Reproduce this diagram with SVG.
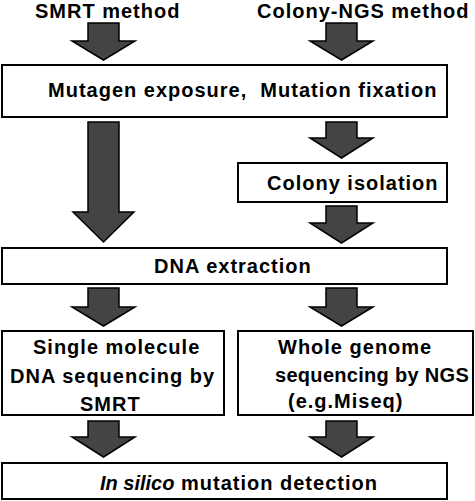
<svg xmlns="http://www.w3.org/2000/svg" width="475" height="501" viewBox="0 0 475 501">
<style>
.box{fill:#fff;stroke:#000;stroke-width:2}
.t{font-family:"Liberation Sans",Arial,sans-serif;font-size:20px;font-weight:bold;letter-spacing:1px;fill:#000}
.arr{fill:#444;stroke:#000;stroke-width:1.5;stroke-linejoin:miter}
</style>
<rect width="475" height="501" fill="#fff"/>
<g id="labels">
<text class="t" x="35" y="18">SMRT method</text>
<text class="t" x="257" y="18">Colony-NGS method</text>
</g>
<g id="connectors">
<polygon class="arr" points="88,23 119,23 119,41 135,41 103.5,60 72,41 88,41"/>
<polygon class="arr" points="326,23 357,23 357,41 373,41 341.5,60 310,41 326,41"/>
<polygon class="arr" points="88,122 119,122 119,212 134,212 103.5,242 73,212 88,212"/>
<polygon class="arr" points="326,122 357,122 357,138 373,138 341.5,158 310,138 326,138"/>
<polygon class="arr" points="326,206 357,206 357,223 373,223 341.5,243 310,223 326,223"/>
<polygon class="arr" points="88,288 119,288 119,307 135,307 103.5,326 72,307 88,307"/>
<polygon class="arr" points="326,288 357,288 357,307 373,307 341.5,326 310,307 326,307"/>
<polygon class="arr" points="88,421 119,421 119,437 135,437 103.5,457 72,437 88,437"/>
<polygon class="arr" points="326,421 357,421 357,437 373,437 341.5,457 310,437 326,437"/>
</g>
<g id="mutagen">
<rect class="box" x="2" y="65" width="445" height="52"/>
<text class="t" x="48" y="97">Mutagen exposure,&#160; Mutation fixation</text>
</g>
<g id="colony">
<rect class="box" x="238" y="163" width="209" height="39"/>
<text class="t" x="267" y="190">Colony isolation</text>
</g>
<g id="dna">
<rect class="box" x="2" y="248" width="445" height="36"/>
<text class="t" x="154" y="273">DNA extraction</text>
</g>
<g id="smrt">
<rect class="box" x="2" y="331" width="222" height="84"/>
<text class="t" x="33" y="354">Single molecule</text>
<text class="t" x="10" y="383">DNA sequencing by</text>
<text class="t" x="80" y="411">SMRT</text>
</g>
<g id="ngs">
<rect class="box" x="238" y="331" width="235" height="84"/>
<text class="t" x="278" y="354">Whole genome</text>
<text class="t" x="275" y="382" style="letter-spacing:0.3px">sequencing by NGS</text>
<text class="t" x="288" y="408">(e.g.Miseq)</text>
</g>
<g id="insilico">
<rect class="box" x="2" y="463" width="445" height="36"/>
<text class="t" x="100" y="490"><tspan font-style="italic" letter-spacing="0">In silico</tspan> mutation detection</text>
</g>
</svg>
